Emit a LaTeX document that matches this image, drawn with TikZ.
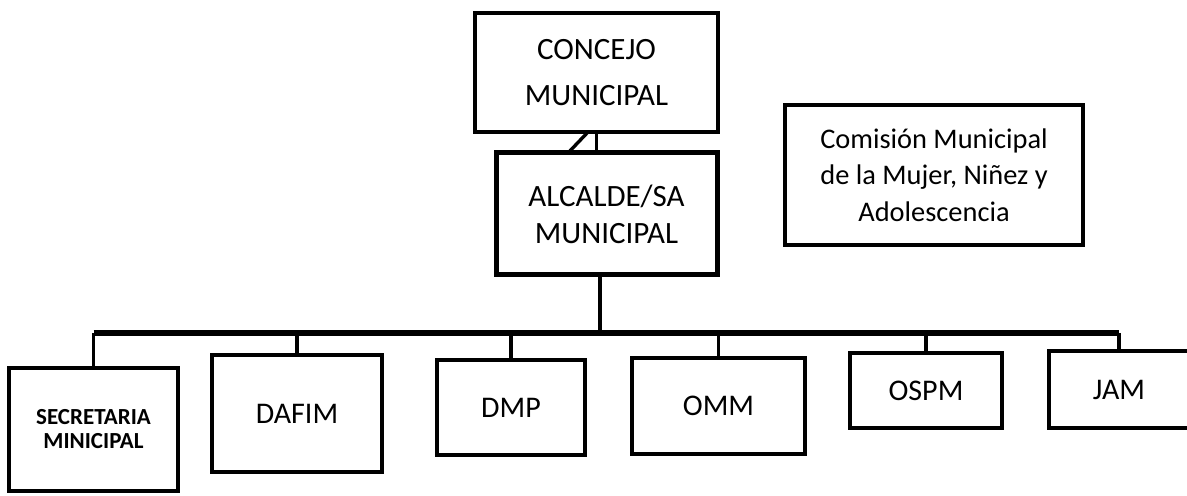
\documentclass[tikz,border=0pt]{standalone}
\usepackage{fontspec}
\setmainfont{Carlito}
\usepackage{tikz}
\usetikzlibrary{positioning,calc}

\begin{document}
\begin{tikzpicture}[x=0.5pt,y=-0.5pt,outer sep=0pt,inner sep=2pt]
      \tikzset{unit/.style={align=center,shape=rectangle,draw,line width=2pt,font=\fontsize{15}{18}\selectfont}}
      \tikzset{headunit/.style={unit,font=\fontsize{15.5}{18.5}\selectfont}}
      \tikzset{link/.style={line width=1.7pt}}
      \tikzset{busline/.style={line width=2.8pt}}
      \useasboundingbox (0,0) rectangle (1187,496);

      \node [headunit,minimum width=121.5pt,minimum height=59.5pt,font=\fontsize{15.5}{23}\selectfont] (concejo) at (596.5,72.5) {CONCEJO\\MUNICIPAL};
      \node [headunit,minimum width=110.5pt,minimum height=61pt,line width=2.5pt] (alcalde) at (606.5,214) {ALCALDE/SA\\MUNICIPAL};
      \node [unit,minimum width=149pt,minimum height=70pt,line width=1.7pt,font=\fontsize{14.2}{18.3}\selectfont] (comision) at (934,175) {Comisión Municipal\\de la Mujer, Niñez y\\Adolescencia};

      \node [unit,minimum width=84.5pt,minimum height=61.5pt,font=\fontsize{11.5}{12}\selectfont\bfseries] (sec) at (93.5,429.5) {SECRETARIA\\MINICIPAL};
      \node [unit,minimum width=85pt,minimum height=58.5pt] (dafim) at (297,413.5) {DAFIM};
      \node [unit,minimum width=74pt,minimum height=47.5pt] (dmp) at (511,407.5) {DMP};
      \node [unit,minimum width=86.5pt,minimum height=48pt] (omm) at (718.5,406) {OMM};
      \node [unit,minimum width=76pt,minimum height=37.5pt] (ospm) at (926,390.5) {OSPM};
      \node [unit,minimum width=70pt,minimum height=38.5pt] (jam) at (1119,389.5) {JAM};

      % concejo - alcalde
      \draw [link] (concejo.south) -- (concejo.south |- alcalde.north);
      \draw [link] ([xshift=-4.25pt]concejo.south) -- ([xshift=-19.25pt]alcalde.north);

      % alcalde - dependencias
      \coordinate (bus) at (600,333);
      \draw [link] (alcalde.south -| bus) -- (bus);
      \draw [busline] (sec.north |- bus) -- (jam.north |- bus);
      \foreach \n in {sec,dafim,dmp,omm,ospm,jam}
        \draw [link] (\n.north |- bus) -- (\n.north);
\end{tikzpicture}
\end{document}
